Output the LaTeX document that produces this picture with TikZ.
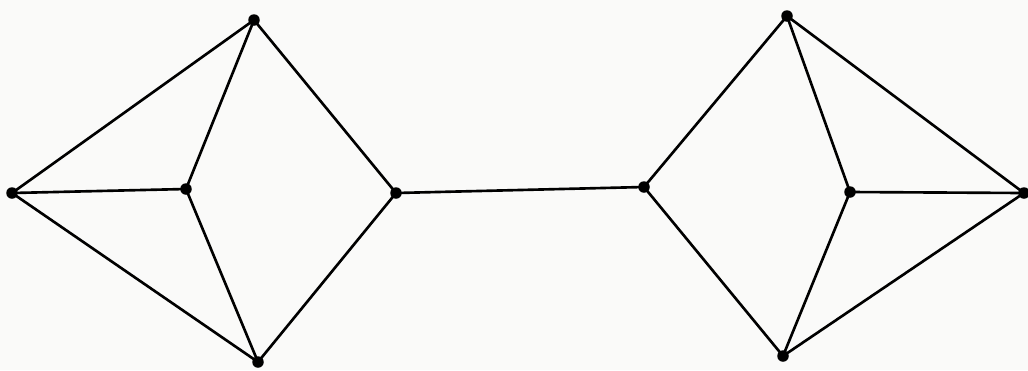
\documentclass[tikz,border=0pt]{standalone}
\begin{document}
\begin{tikzpicture}[x=0.02cm,y=-0.02cm,
  vtx/.style={circle,fill=black,inner sep=0pt,minimum size=0.23cm},
  edge/.style={line width=1.5pt,black}]
\definecolor{paper}{RGB}{250,250,249}
\fill[paper] (0,0) rectangle (1028,370);
\useasboundingbox (0,0) rectangle (1028,370);
\node[vtx] (A) at (12,193) {};
\node[vtx] (B) at (186,189) {};
\node[vtx] (C) at (254,20) {};
\node[vtx] (D) at (258,362) {};
\node[vtx] (E) at (396,193) {};
\node[vtx] (F) at (644,187) {};
\node[vtx] (G) at (787,16) {};
\node[vtx] (H) at (850,192) {};
\node[vtx] (I) at (1024,193) {};
\node[vtx] (J) at (783,356) {};
\draw[edge] (A.center) -- (C.center);
\draw[edge] (A.center) -- (B.center);
\draw[edge] (A.center) -- (D.center);
\draw[edge] (B.center) -- (C.center);
\draw[edge] (B.center) -- (D.center);
\draw[edge] (C.center) -- (E.center);
\draw[edge] (D.center) -- (E.center);
\draw[edge] (E.center) -- (F.center);
\draw[edge] (F.center) -- (G.center);
\draw[edge] (F.center) -- (J.center);
\draw[edge] (G.center) -- (H.center);
\draw[edge] (G.center) -- (I.center);
\draw[edge] (H.center) -- (I.center);
\draw[edge] (H.center) -- (J.center);
\draw[edge] (J.center) -- (I.center);
\end{tikzpicture}
\end{document}
